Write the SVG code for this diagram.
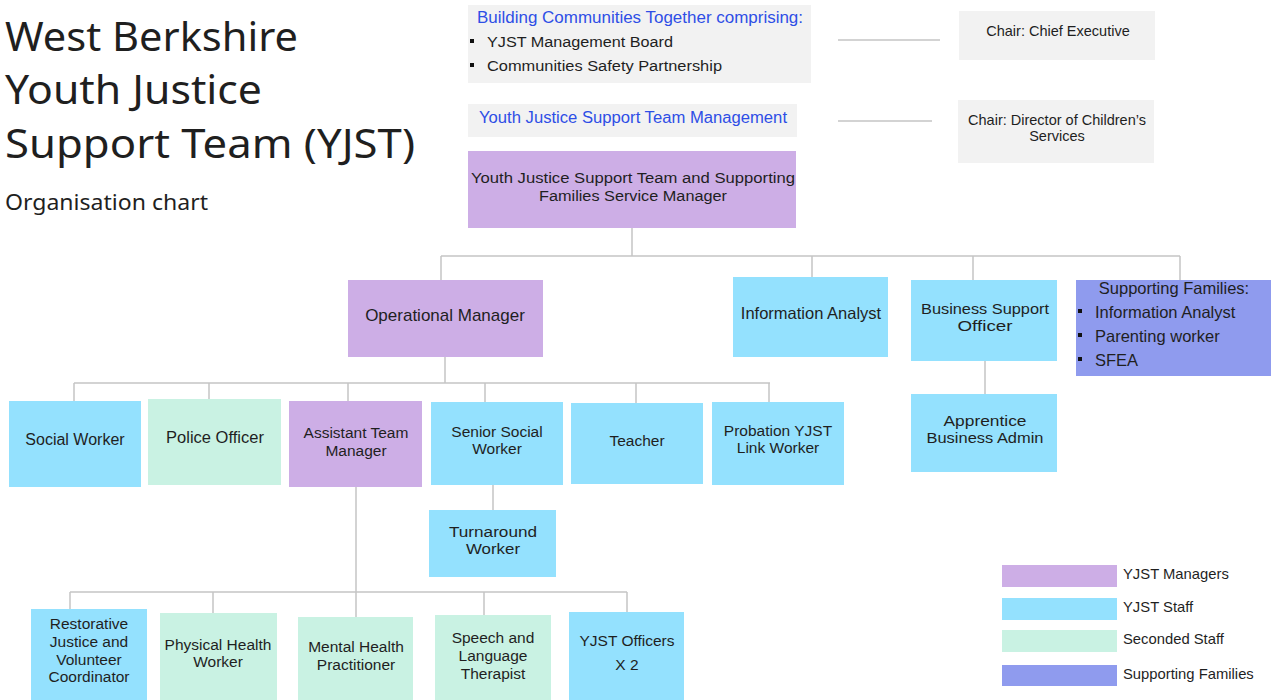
<svg xmlns="http://www.w3.org/2000/svg" width="1271" height="700" viewBox="0 0 1271 700">
<style>
  text { font-family: "Liberation Sans", Arial, sans-serif; fill: #1f1f1f; }
  .t { font-size: 15.5px; text-anchor: middle; }
  .l { font-size: 15.5px; }
  .blue { fill: #2e4ee6; }
  .small { font-size: 14.5px; text-anchor: middle; }
  .lg { font-size: 14.8px; }
  .title { font-size: 40px; font-family: "Noto Sans", "Open Sans", sans-serif; }
  .mgr { fill: #cdaee6; }
  .staff { fill: #94e1fe; }
  .sec { fill: #c9f2e3; }
  .sf { fill: #8f9bee; }
  .grey { fill: #f2f2f2; }
  .conn line { stroke: #c4c4c4; stroke-width: 1.5; fill: none; }
</style>

<g id="title">
  <text class="title" x="5" y="51" textLength="293" lengthAdjust="spacingAndGlyphs">West Berkshire</text>
  <text class="title" x="5" y="104" textLength="257" lengthAdjust="spacingAndGlyphs">Youth Justice</text>
  <text class="title" x="5" y="158" textLength="410" lengthAdjust="spacingAndGlyphs">Support Team (YJST)</text>
  <text x="5" y="210" style="font-size:22px;font-family:'Noto Sans','Open Sans',sans-serif" textLength="203" lengthAdjust="spacingAndGlyphs">Organisation chart</text>
</g>

<g class="conn" id="connectors">
  <line x1="838" y1="40" x2="940" y2="40"/>
  <line x1="838" y1="121" x2="932" y2="121"/>
  <line x1="632" y1="228" x2="632" y2="256"/>
  <line x1="441" y1="256" x2="1180" y2="256"/>
  <line x1="441" y1="256" x2="441" y2="280"/>
  <line x1="812" y1="256" x2="812" y2="277"/>
  <line x1="973" y1="256" x2="973" y2="280"/>
  <line x1="1180" y1="256" x2="1180" y2="281"/>
  <line x1="985" y1="361" x2="985" y2="394"/>
  <line x1="445" y1="357" x2="445" y2="383"/>
  <line x1="74" y1="383" x2="770" y2="383"/>
  <line x1="74" y1="383" x2="74" y2="401"/>
  <line x1="209" y1="383" x2="209" y2="399"/>
  <line x1="348" y1="383" x2="348" y2="401"/>
  <line x1="485" y1="383" x2="485" y2="402"/>
  <line x1="636" y1="383" x2="636" y2="403"/>
  <line x1="769" y1="383" x2="769" y2="402"/>
  <line x1="493" y1="485" x2="493" y2="510"/>
  <line x1="356" y1="487" x2="356" y2="617"/>
  <line x1="70" y1="592" x2="627" y2="592"/>
  <line x1="70" y1="592" x2="70" y2="609"/>
  <line x1="213" y1="592" x2="213" y2="613"/>
  <line x1="484" y1="592" x2="484" y2="615"/>
  <line x1="627" y1="592" x2="627" y2="612"/>
</g>

<g id="building-communities">
  <rect class="grey" x="468" y="5" width="343" height="78"/>
  <text class="l blue" x="477" y="23" style="font-size:16px" textLength="326" lengthAdjust="spacingAndGlyphs">Building Communities Together comprising:</text>
  <rect x="470" y="39" width="4" height="4" fill="#111"/>
  <text class="l" x="487" y="47" textLength="186" lengthAdjust="spacingAndGlyphs">YJST Management Board</text>
  <rect x="470" y="63" width="4" height="4" fill="#111"/>
  <text class="l" x="487" y="71" textLength="235" lengthAdjust="spacingAndGlyphs">Communities Safety Partnership</text>
</g>

<g id="chair-ce">
  <rect class="grey" x="959" y="11" width="196" height="49"/>
  <text class="small" x="1058" y="36">Chair: Chief Executive</text>
</g>

<g id="yjst-management">
  <rect class="grey" x="468" y="104" width="329" height="33"/>
  <text class="t blue" x="633" y="123" style="font-size:16px" textLength="308" lengthAdjust="spacingAndGlyphs">Youth Justice Support Team Management</text>
</g>

<g id="chair-dcs">
  <rect class="grey" x="958" y="100" width="196" height="63"/>
  <text class="small" x="1057" y="125">Chair: Director of Children’s</text>
  <text class="small" x="1057" y="141">Services</text>
</g>

<g id="service-manager">
  <rect class="mgr" x="468" y="151" width="328" height="77"/>
  <text class="t" x="633" y="183" textLength="324" lengthAdjust="spacingAndGlyphs">Youth Justice Support Team and Supporting</text>
  <text class="t" x="633" y="201" textLength="188" lengthAdjust="spacingAndGlyphs">Families Service Manager</text>
</g>

<g id="operational-manager">
  <rect class="mgr" x="348" y="280" width="195" height="77"/>
  <text class="t" x="445" y="321" style="font-size:17px">Operational Manager</text>
</g>

<g id="information-analyst">
  <rect class="staff" x="733" y="277" width="155" height="80"/>
  <text class="t" x="811" y="319" style="font-size:16.5px">Information Analyst</text>
</g>

<g id="business-support-officer">
  <rect class="staff" x="911" y="280" width="146" height="81"/>
  <text class="t" x="985" y="314" textLength="128" lengthAdjust="spacingAndGlyphs">Business Support</text>
  <text class="t" x="985" y="331" textLength="55" lengthAdjust="spacingAndGlyphs">Officer</text>
</g>

<g id="supporting-families">
  <rect class="sf" x="1076" y="280" width="195" height="96"/>
  <text class="t" x="1174" y="294" style="font-size:16.5px">Supporting Families:</text>
  <rect x="1078" y="309" width="4" height="4" fill="#111"/>
  <text class="l" x="1095" y="318" style="font-size:16.5px">Information Analyst</text>
  <rect x="1078" y="333" width="4" height="4" fill="#111"/>
  <text class="l" x="1095" y="342" style="font-size:16.5px">Parenting worker</text>
  <rect x="1078" y="357" width="4" height="4" fill="#111"/>
  <text class="l" x="1095" y="366" style="font-size:16.5px">SFEA</text>
</g>

<g id="apprentice">
  <rect class="staff" x="911" y="394" width="146" height="78"/>
  <text class="t" x="985" y="426" textLength="83" lengthAdjust="spacingAndGlyphs">Apprentice</text>
  <text class="t" x="985" y="443" textLength="117" lengthAdjust="spacingAndGlyphs">Business Admin</text>
</g>

<g id="social-worker">
  <rect class="staff" x="9" y="401" width="132" height="86"/>
  <text class="t" x="75" y="445" style="font-size:16px">Social Worker</text>
</g>

<g id="police-officer">
  <rect class="sec" x="148" y="399" width="133" height="86"/>
  <text class="t" x="215" y="443" style="font-size:16.5px">Police Officer</text>
</g>

<g id="assistant-team-manager">
  <rect class="mgr" x="289" y="401" width="133" height="86"/>
  <text class="t" x="356" y="438">Assistant Team</text>
  <text class="t" x="356" y="456">Manager</text>
</g>

<g id="senior-social-worker">
  <rect class="staff" x="431" y="402" width="132" height="83"/>
  <text class="t" x="497" y="437">Senior Social</text>
  <text class="t" x="497" y="454">Worker</text>
</g>

<g id="teacher">
  <rect class="staff" x="571" y="403" width="132" height="81"/>
  <text class="t" x="637" y="446">Teacher</text>
</g>

<g id="probation">
  <rect class="staff" x="712" y="402" width="132" height="83"/>
  <text class="t" x="778" y="436">Probation YJST</text>
  <text class="t" x="778" y="453">Link Worker</text>
</g>

<g id="turnaround-worker">
  <rect class="staff" x="429" y="510" width="127" height="67"/>
  <text class="t" x="493" y="537" textLength="88" lengthAdjust="spacingAndGlyphs">Turnaround</text>
  <text class="t" x="493" y="554" textLength="54" lengthAdjust="spacingAndGlyphs">Worker</text>
</g>

<g id="restorative-justice">
  <rect class="staff" x="31" y="609" width="116" height="91"/>
  <text class="t" x="89" y="629">Restorative</text>
  <text class="t" x="89" y="647">Justice and</text>
  <text class="t" x="89" y="665">Volunteer</text>
  <text class="t" x="89" y="682">Coordinator</text>
</g>

<g id="physical-health">
  <rect class="sec" x="160" y="613" width="117" height="87"/>
  <text class="t" x="218" y="650">Physical Health</text>
  <text class="t" x="218" y="667">Worker</text>
</g>

<g id="mental-health">
  <rect class="sec" x="298" y="617" width="115" height="83"/>
  <text class="t" x="356" y="652">Mental Health</text>
  <text class="t" x="356" y="670">Practitioner</text>
</g>

<g id="speech-language">
  <rect class="sec" x="435" y="615" width="116" height="85"/>
  <text class="t" x="493" y="643">Speech and</text>
  <text class="t" x="493" y="661">Language</text>
  <text class="t" x="493" y="679">Therapist</text>
</g>

<g id="yjst-officers">
  <rect class="staff" x="569" y="612" width="115" height="88"/>
  <text class="t" x="627" y="646">YJST Officers</text>
  <text class="t" x="627" y="670">X 2</text>
</g>

<g id="legend">
  <rect class="mgr" x="1002" y="565" width="115" height="22"/>
  <text class="lg" x="1123" y="579">YJST Managers</text>
  <rect class="staff" x="1002" y="598" width="115" height="22"/>
  <text class="lg" x="1123" y="612">YJST Staff</text>
  <rect class="sec" x="1002" y="630" width="115" height="22"/>
  <text class="lg" x="1123" y="644">Seconded Staff</text>
  <rect class="sf" x="1002" y="665" width="115" height="21"/>
  <text class="lg" x="1123" y="679">Supporting Families</text>
</g>
</svg>
